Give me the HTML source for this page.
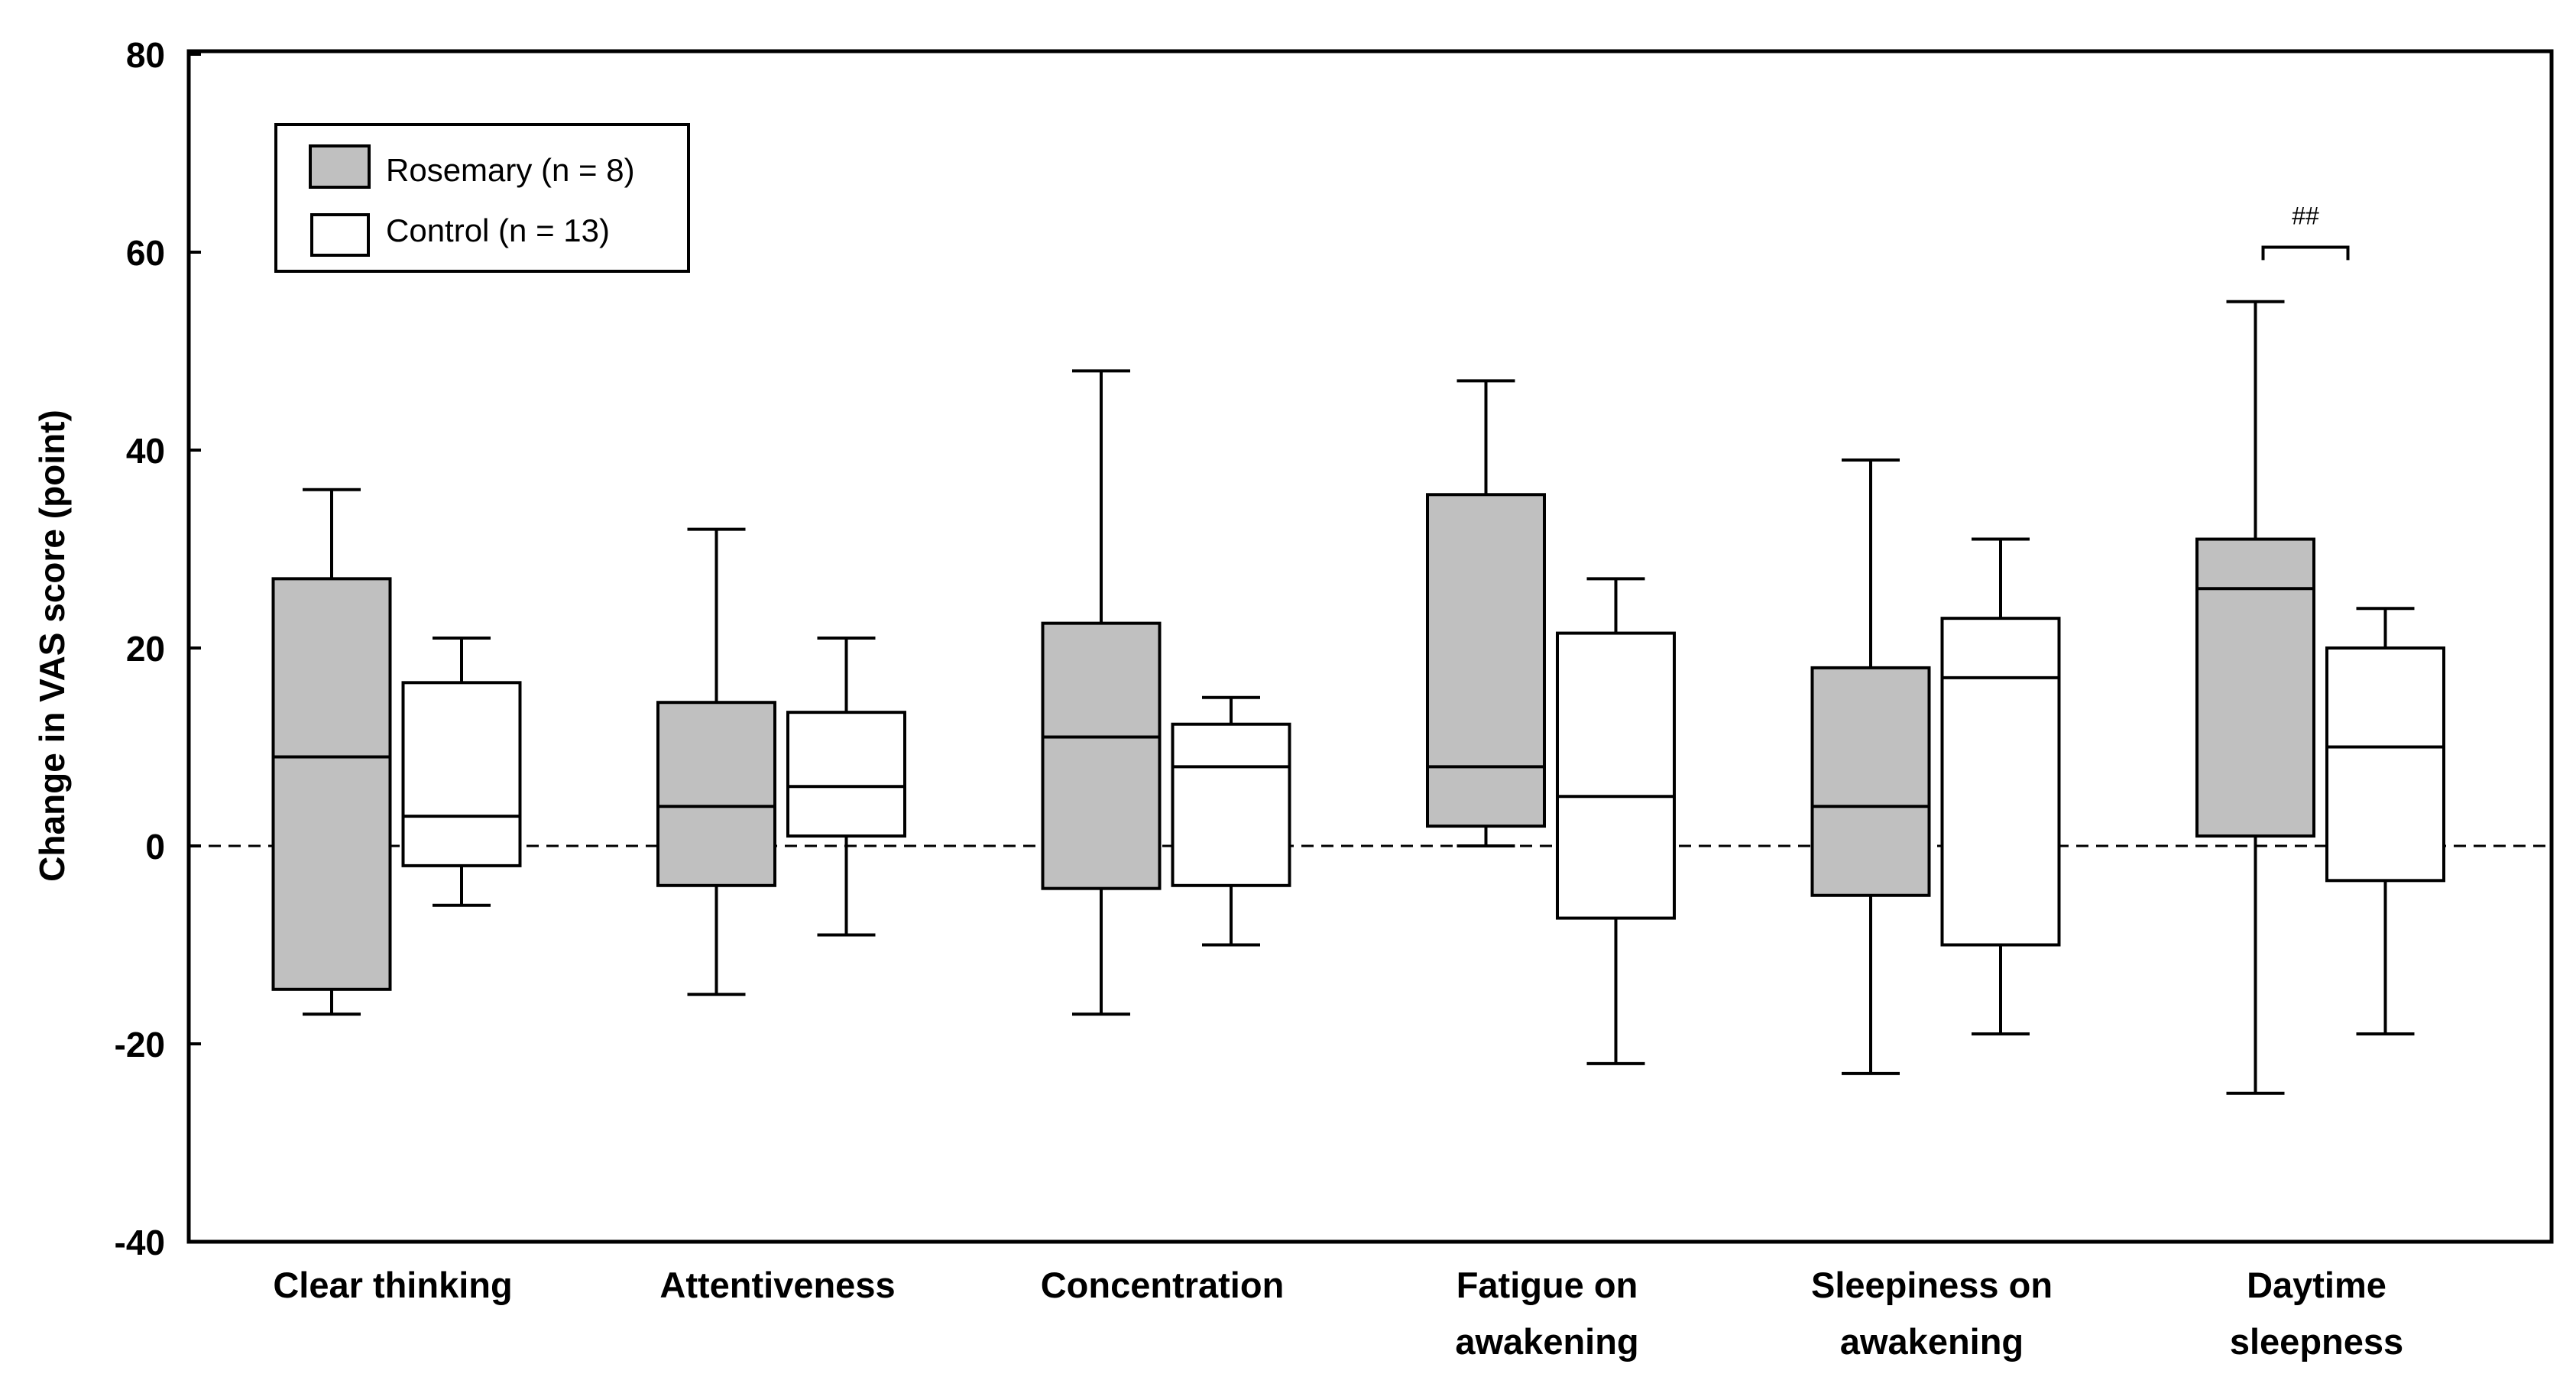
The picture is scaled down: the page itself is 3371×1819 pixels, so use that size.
<!DOCTYPE html>
<html><head><meta charset="utf-8"><style>
html,body{margin:0;padding:0;background:#fff;}
svg{display:block;font-family:"Liberation Sans",Arial,sans-serif;}
</style></head><body>
<svg id="chart" width="3371" height="1819" viewBox="0 0 3371 1819" xmlns="http://www.w3.org/2000/svg">
<rect x="0" y="0" width="3371" height="1819" fill="#fff"/>
<g id="plot"></g>
<g id="legend">
<rect x="361" y="163" width="540" height="192" fill="#fff" stroke="#000" stroke-width="4"/>
<rect x="406" y="191" width="77" height="54" fill="#c0c0c0" stroke="#000" stroke-width="4"/>
<text x="505" y="237" font-size="42">Rosemary (n = 8)</text>
<rect x="408" y="281" width="74" height="53" fill="#fff" stroke="#000" stroke-width="4"/>
<text x="505" y="316" font-size="42">Control (n = 13)</text>
</g>
<text transform="translate(84,845) rotate(-90)" text-anchor="middle" font-size="46" font-weight="bold">Change in VAS score (point)</text>
</svg>
<script>
const categories = [["Clear thinking"],["Attentiveness"],["Concentration"],["Fatigue on","awakening"],["Sleepiness on","awakening"],["Daytime","sleepness"]];
const rosemaryMin = [-17,-15,-17,0,-23,-25];
const rosemaryQ1 = [-14.5,-4,-4.3,2,-5,1];
const rosemaryMed = [9,4,11,8,4,26];
const rosemaryQ3 = [27,14.5,22.5,35.5,18,31];
const rosemaryMax = [36,32,48,47,39,55];
const controlMin = [-6,-9,-10,-22,-19,-19];
const controlQ1 = [-2,1,-4,-7.3,-10,-3.5];
const controlMed = [3,6,8,5,17,10];
const controlQ3 = [16.5,13.5,12.3,21.5,23,20];
const controlMax = [21,21,15,27,31,24];
const yTicks = [80,60,40,20,0,-20,-40];

const NS="http://www.w3.org/2000/svg";
const L=247,R=3339,T=67,B=1625;
function y(v){return 71+(80-v)*12.95;}
function xR(i){return 434+i*503.5;}
const g=document.getElementById('plot');
function el(tag,attrs,parent){const e=document.createElementNS(NS,tag);for(const k in attrs)e.setAttribute(k,attrs[k]);(parent||g).appendChild(e);return e;}

const zl=el('line',{x1:L,x2:R,y1:y(0),y2:y(0),stroke:'#000','stroke-width':3,'stroke-dasharray':'16,10'});



function box(cx,mn,q1,md,q3,mx,fill,name){
  const grp=el('g',{});
  
  
  const w=153,cw=76;
  el('line',{x1:cx,x2:cx,y1:y(mx),y2:y(q3),stroke:'#000','stroke-width':4},grp);
  el('line',{x1:cx,x2:cx,y1:y(q1),y2:y(mn),stroke:'#000','stroke-width':4},grp);
  el('line',{x1:cx-cw/2,x2:cx+cw/2,y1:y(mx),y2:y(mx),stroke:'#000','stroke-width':4},grp);
  el('line',{x1:cx-cw/2,x2:cx+cw/2,y1:y(mn),y2:y(mn),stroke:'#000','stroke-width':4},grp);
  el('rect',{x:cx-w/2,y:y(q3),width:w,height:y(q1)-y(q3),fill:fill,stroke:'#000','stroke-width':4},grp);
  el('line',{x1:cx-w/2,x2:cx+w/2,y1:y(md),y2:y(md),stroke:'#000','stroke-width':4},grp);
}
categories.forEach((c,i)=>{
  box(xR(i),rosemaryMin[i],rosemaryQ1[i],rosemaryMed[i],rosemaryQ3[i],rosemaryMax[i],'#c0c0c0','box-rosemary-'+(i+1));
  box(xR(i)+170,controlMin[i],controlQ1[i],controlMed[i],controlQ3[i],controlMax[i],'#fff','box-control-'+(i+1));
  const t=el('text',{x:xR(i)+80,y:1698,'text-anchor':'middle','font-size':47,'font-weight':'bold'});
  
  
  c.forEach((line,j)=>{const ts=el('tspan',{x:xR(i)+80,dy:j?74:0},t);ts.textContent=line;});
});

const fr=el('rect',{x:L,y:T,width:R-L,height:B-T,fill:'none',stroke:'#000','stroke-width':5});


yTicks.forEach(v=>{
  el('line',{x1:L,x2:L+16,y1:y(v),y2:y(v),stroke:'#000','stroke-width':4});
  const t=el('text',{x:216,y:y(v)+17,'text-anchor':'end','font-size':46,'font-weight':'bold'});
  
  
  t.textContent=v;
});
const bx1=xR(5)+10,bx2=xR(5)+121;
const br=el('path',{d:`M${bx1} ${y(59.2)} V${y(60.5)} H${bx2} V${y(59.2)}`,fill:'none',stroke:'#000','stroke-width':4});


const st=el('text',{x:(bx1+bx2)/2,y:y(62.8),'text-anchor':'middle','font-size':32});


st.textContent='##';
</script>
</body></html>
